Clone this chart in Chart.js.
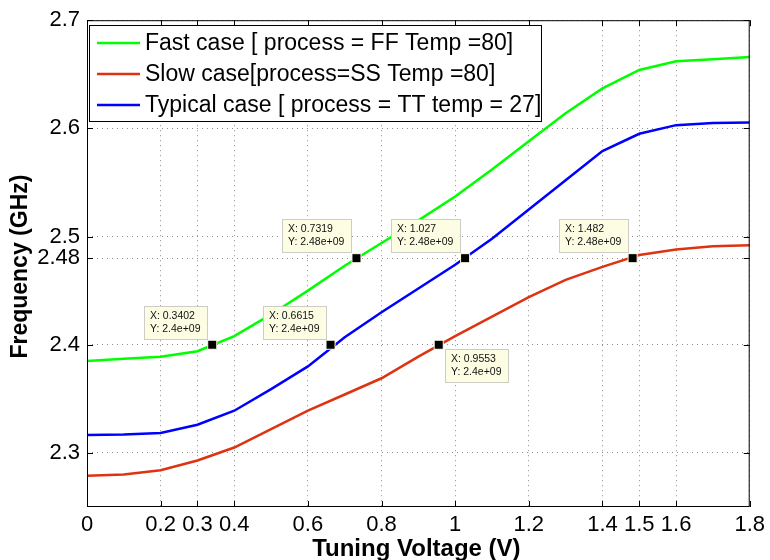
<!DOCTYPE html>
<html>
<head>
<meta charset="utf-8">
<script src="https://cdn.jsdelivr.net/npm/chart.js@4.4.1/dist/chart.umd.min.js"></script>
<style>
  html, body { margin: 0; padding: 0; background: #fff; }
  #wrap { width: 770px; height: 560px; }
</style>
</head>
<body>
<div id="wrap"><canvas id="grafico" width="770" height="560"></canvas></div>
<script>
// dados (tensao em V, frequencia em GHz)
const voltages     = [0, 0.1, 0.2, 0.3, 0.4, 0.5, 0.6, 0.7, 0.8, 0.9, 1.0, 1.1, 1.2, 1.3, 1.4, 1.5, 1.6, 1.7, 1.8];
const fastFreq     = [2.385, 2.387, 2.389, 2.394, 2.408, 2.428, 2.450, 2.473, 2.494, 2.515, 2.537, 2.562, 2.588, 2.614, 2.637, 2.654, 2.662, 2.664, 2.666];
const slowFreq     = [2.279, 2.280, 2.284, 2.293, 2.305, 2.322, 2.339, 2.354, 2.369, 2.389, 2.408, 2.426, 2.444, 2.460, 2.472, 2.483, 2.488, 2.491, 2.492];
const typicalFreq  = [2.3165, 2.317, 2.3185, 2.326, 2.339, 2.359, 2.380, 2.407, 2.430, 2.452, 2.474, 2.498, 2.525, 2.552, 2.579, 2.595, 2.603, 2.605, 2.6055];

const seriesNames  = ['Fast case [ process = FF Temp =80]', 'Slow case[process=SS Temp =80]', 'Typical case [ process = TT temp = 27]'];
const seriesColors = ['#00ff00', '#dd3311', '#0000ff'];

const xTicks = [0, 0.2, 0.3, 0.4, 0.6, 0.8, 1, 1.2, 1.4, 1.5, 1.6, 1.8];
const yTicks = [2.3, 2.4, 2.48, 2.5, 2.6, 2.7];

// data tips (marcadores)
const tipX     = [0.3402, 0.6615, 0.7319, 1.027, 0.9553, 1.482];
const tipY     = [2.4, 2.4, 2.48, 2.48, 2.4, 2.48];
const tipBelow = [false, false, false, false, true, false];

const FONTE = '"Liberation Sans", Arial, Helvetica, sans-serif';

function pontos(ys) {
    return voltages.map((v, i) => ({ x: v, y: ys[i] }));
}

// moldura, ticks internos, titulos, legenda e caixas dos data tips
const pluginMatlab = {
    id: 'estiloMatlab',
    afterDatasetsDraw(chart) {
        const { ctx, chartArea: a, scales } = chart;
        const sx = scales.x, sy = scales.y;
        ctx.save();

        // caixa do eixo
        ctx.strokeStyle = '#000';
        ctx.lineWidth = 1;
        ctx.strokeRect(a.left + 0.5, a.top + 0.5, a.right - a.left - 1, a.bottom - a.top - 1);

        // ticks para dentro
        const tl = 6;
        ctx.beginPath();
        xTicks.forEach(v => {
            const px = Math.round(sx.getPixelForValue(v)) + 0.5;
            ctx.moveTo(px, a.bottom); ctx.lineTo(px, a.bottom - tl);
            ctx.moveTo(px, a.top); ctx.lineTo(px, a.top + tl);
        });
        yTicks.forEach(v => {
            const py = Math.round(sy.getPixelForValue(v)) + 0.5;
            ctx.moveTo(a.left, py); ctx.lineTo(a.left + tl, py);
            ctx.moveTo(a.right, py); ctx.lineTo(a.right - tl, py);
        });
        ctx.stroke();

        // titulos dos eixos
        ctx.fillStyle = '#000';
        ctx.textAlign = 'center';
        ctx.textBaseline = 'middle';
        ctx.font = 'bold 24px ' + FONTE;
        ctx.fillText('Tuning Voltage (V)', (a.left + a.right) / 2 - 2, 549);
        ctx.font = 'bold 23px ' + FONTE;
        ctx.save();
        ctx.translate(21, (a.top + a.bottom) / 2 + 3);
        ctx.rotate(-Math.PI / 2);
        ctx.fillText('Frequency (GHz)', 0, 0);
        ctx.restore();

        // legenda
        const lg = { l: 89, t: 25, r: 541, b: 121 };
        ctx.fillStyle = '#fff';
        ctx.fillRect(lg.l, lg.t, lg.r - lg.l, lg.b - lg.t);
        ctx.strokeStyle = '#000';
        ctx.strokeRect(lg.l + 0.5, lg.t + 0.5, lg.r - lg.l, lg.b - lg.t);
        ctx.font = '23px ' + FONTE;
        ctx.textAlign = 'left';
        seriesNames.forEach((nome, i) => {
            const yy = lg.t + 18 + i * 31;
            ctx.strokeStyle = seriesColors[i];
            ctx.lineWidth = 2.5;
            ctx.beginPath();
            ctx.moveTo(97, yy); ctx.lineTo(140, yy);
            ctx.stroke();
            ctx.fillStyle = '#000';
            ctx.fillText(nome, 145, yy + 1);
        });

        // caixas dos data tips
        ctx.font = '10.5px ' + FONTE;
        ctx.lineWidth = 1;
        tipX.forEach((xv, i) => {
            const mx = sx.getPixelForValue(xv);
            const my = sy.getPixelForValue(tipY[i]);
            const l1 = 'X: ' + xv;
            const l2 = 'Y: ' + tipY[i] + 'e+09';
            const w = Math.ceil(Math.max(ctx.measureText(l1).width, ctx.measureText(l2).width)) + 12;
            const h = 33;
            let bx, by;
            if (tipBelow[i]) { bx = Math.round(mx + 6); by = Math.round(my + 4); }
            else { bx = Math.round(mx - 5 - w); by = Math.round(my - 6 - h); }
            ctx.fillStyle = '#fdfde3';
            ctx.fillRect(bx, by, w, h);
            ctx.strokeStyle = '#cdcdc8';
            ctx.strokeRect(bx + 0.5, by + 0.5, w, h);
            ctx.fillStyle = '#111';
            ctx.textBaseline = 'middle';
            ctx.fillText(l1, bx + 6, by + 10.5);
            ctx.fillText(l2, bx + 6, by + 23.5);
        });

        ctx.restore();
    }
};

const eixoComum = {
    type: 'linear',
    grid: { color: '#8c8c8c', lineWidth: 1, drawTicks: false },
    border: { display: false, dash: [1, 4] },
    ticks: { color: '#000', font: { family: FONTE, size: 22 }, autoSkip: false, maxRotation: 0 }
};

new Chart(document.getElementById('grafico'), {
    type: 'line',
    data: {
        datasets: [
            {
                label: 'tips',
                data: tipX.map((v, i) => ({ x: v, y: tipY[i] })),
                showLine: false,
                pointStyle: 'rect',
                pointRadius: 6.4,
                pointBackgroundColor: '#000',
                pointBorderColor: '#ffffe1',
                pointBorderWidth: 1,
                order: 0
            },
            { label: seriesNames[0], data: pontos(fastFreq), borderColor: seriesColors[0], borderWidth: 2.5, pointRadius: 0, tension: 0, order: 1 },
            { label: seriesNames[1], data: pontos(slowFreq), borderColor: seriesColors[1], borderWidth: 2.5, pointRadius: 0, tension: 0, order: 1 },
            { label: seriesNames[2], data: pontos(typicalFreq), borderColor: seriesColors[2], borderWidth: 2.5, pointRadius: 0, tension: 0, order: 1 }
        ]
    },
    options: {
        responsive: false,
        animation: false,
        devicePixelRatio: 1,
        layout: { padding: { left: 0, top: 16, right: 18, bottom: 0 } },
        plugins: { legend: { display: false }, tooltip: { enabled: false } },
        scales: {
            x: {
                ...eixoComum,
                min: 0, max: 1.8,
                ticks: { ...eixoComum.ticks, padding: 5, callback: v => String(v) },
                afterBuildTicks: s => { s.ticks = xTicks.map(v => ({ value: v })); },
                afterFit: s => { s.height = 53; }
            },
            y: {
                ...eixoComum,
                min: 2.25, max: 2.7,
                ticks: { ...eixoComum.ticks, padding: 7, callback: v => String(v) },
                afterBuildTicks: s => { s.ticks = yTicks.map(v => ({ value: v })); },
                afterFit: s => { s.width = 87; }
            }
        }
    },
    plugins: [pluginMatlab]
});
</script>
</body>
</html>
